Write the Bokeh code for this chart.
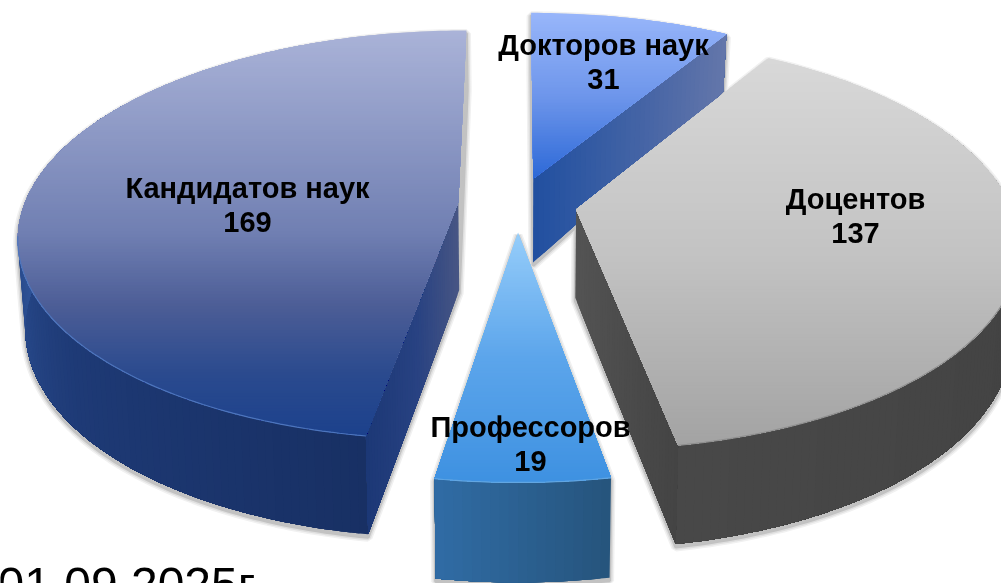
import math
from bokeh.plotting import figure
from bokeh.models import Range1d
from bokeh.core.properties import value
from bokeh.embed import file_html
from bokeh.resources import INLINE

# ---- data ----
categories = ["Докторов наук", "Доцентов", "Профессоров", "Кандидатов наук"]
values = [31, 137, 19, 169]
date_label = "01.09.2025г"

# ---- colour stops: (position, rgb) ----
top_stops = {
    "Докторов наук": [(0.0, (152, 182, 250)), (0.5, (110, 150, 235)), (1.0, (45, 105, 215))],
    "Доцентов": [(0.0, (216, 216, 216)), (0.5, (195, 195, 195)), (1.0, (163, 163, 163))],
    "Профессоров": [(0.0, (150, 205, 250)), (0.5, (92, 165, 235)), (1.0, (62, 145, 225))],
    "Кандидатов наук": [(0.0, (170, 179, 216)), (0.5, (112, 127, 178)), (0.68, (76, 93, 150)),
                        (0.85, (42, 74, 142)), (1.0, (28, 65, 140))],
}
rim_stops = {
    "Доцентов": [(0.0, (60, 60, 60)), (0.5, (66, 66, 66)), (1.0, (72, 72, 72))],
    "Профессоров": [(0.0, (38, 84, 124)), (1.0, (48, 108, 165))],
    "Кандидатов наук": [(0.0, (24, 48, 100)), (0.25, (30, 58, 118)), (0.47, (46, 82, 150)), (1.0, (46, 82, 150))],
}
# radial face, from the apex (0) to the rim (1)
radial_stops = {
    "Докторов наук": [(0.0, (33, 80, 160)), (1.0, (100, 118, 170))],
    "Доцентов": [(0.0, (84, 84, 84)), (1.0, (68, 68, 68))],
    "Кандидатов наук": [(0.0, (72, 86, 132)), (0.5, (40, 66, 130)), (1.0, (28, 56, 118))],
}
highlight = {"Кандидатов наук": "#4d75bd", "Профессоров": "#62a6e2", "Доцентов": "#8f8f8f"}
labels = {
    "Докторов наук": (603, 44),
    "Доцентов": (855, 198),
    "Профессоров": (530, 426),
    "Кандидатов наук": (247, 187),
}

# ---- projection ----
CX, CY, RX, RY, PERSP, EXPLODE, DEPTH, LEAN = 517, 204, 434, 200, 0.16, 0.137, 88, 0.985


def project(X, D, low=False):
    s = 1 / (1 - PERSP * D)
    px, py = CX + RX * X * s, CY + RY * D * s
    if low:
        py += DEPTH * (1 + 0.12 * D if D > 0 else 1 + 0.35 * D)
        px = CX + (px - CX) * LEAN
    return px, py


def mix(stops, f):
    f = max(0.0, min(1.0, f))
    for (a, ca), (b, cb) in zip(stops, stops[1:]):
        if f <= b:
            k = (f - a) / (b - a) if b > a else 0
            r = [round(x + (y - x) * k) for x, y in zip(ca, cb)]
            return "#%02x%02x%02x" % tuple(r)
    return "#%02x%02x%02x" % tuple(stops[-1][1])


def clip_below(poly, y0):
    out = []
    for i, q in enumerate(poly):
        r = poly[(i + 1) % len(poly)]
        if q[1] >= y0:
            out.append(q)
        if (q[1] >= y0) != (r[1] >= y0):
            k = (y0 - q[1]) / (r[1] - q[1])
            out.append((q[0] + (r[0] - q[0]) * k, y0))
    return out


def hull(pts):
    pts = sorted(set(pts))

    def build(seq):
        h = []
        for q in seq:
            while len(h) > 1 and (h[-1][0]-h[-2][0])*(q[1]-h[-2][1]) - (h[-1][1]-h[-2][1])*(q[0]-h[-2][0]) <= 0:
                h.pop()
            h.append(q)
        return h[:-1]
    return build(pts) + build(pts[::-1])


p = figure(width=1001, height=583, output_backend="svg", toolbar_location=None,
           x_range=Range1d(0, 1001), y_range=Range1d(583, 0),
           min_border=0, outline_line_color=None, background_fill_color="white")
p.axis.visible = False
p.grid.visible = False
p.styles = {"position": "fixed", "left": "0", "top": "0"}

total = sum(values)
wedges = []
start = 0.0
for name, val in zip(categories, values):
    span = 360.0 * val / total
    wedges.append((name, start, start + span))
    start += span


def geometry(a0, a1):
    mid = math.radians((a0 + a1) / 2)
    ox, od = EXPLODE * math.sin(mid), -EXPLODE * math.cos(mid)
    n = max(6, int(a1 - a0))
    arc = []
    for i in range(n + 1):
        t = math.radians(a0 + (a1 - a0) * i / n)
        arc.append((ox + math.sin(t), od - math.cos(t)))
    return (ox, od), arc


# soft drop shadows under every slice
for width, col in ((9, "#f1f1f1"), (6, "#dfdfdf"), (3, "#c2c2c2")):
    xs, ys = [], []
    for name, a0, a1 in wedges:
        apex, arc = geometry(a0, a1)
        pts = [project(*q) for q in [apex] + arc] + [project(*q, low=True) for q in [apex] + arc]
        h = hull(pts)
        xs.append([q[0] for q in h])
        ys.append([q[1] + 3 for q in h])
    p.patches(xs, ys, fill_color=col, line_color=col, line_width=width)

# slices, from the back to the front
order = ["Докторов наук", "Кандидатов наук", "Доцентов", "Профессоров"]
for name in order:
    a0, a1 = next((w[1], w[2]) for w in wedges if w[0] == name)
    apex, arc = geometry(a0, a1)
    xs, ys, cols = [], [], []

    # outer rim: every step paints from its angle to the end of the visible arc
    if name in rim_stops:
        n = len(arc) - 1
        idx = [i for i in range(n) if arc[i][1] > -0.55]
        if idx:
            last = idx[-1] + 1
            for i in idx:
                seg = arc[i:last + 1]
                pts = [project(*q) for q in seg] + [project(*q, low=True) for q in seg[::-1]]
                xs.append([q[0] for q in pts])
                ys.append([q[1] for q in pts])
                cols.append(mix(rim_stops[name], (i + 0.5) / n))
    # visible radial face, painted from the apex outwards
    if name in radial_stops:
        edge = arc[0] if name == "Кандидатов наук" else arc[-1]
        m = 40
        for i in range(m):
            f = i / m
            a = (apex[0] + (edge[0] - apex[0]) * f, apex[1] + (edge[1] - apex[1]) * f)
            pts = [project(*a), project(*edge), project(*edge, low=True), project(*a, low=True)]
            xs.append([q[0] for q in pts])
            ys.append([q[1] for q in pts])
            cols.append(mix(radial_stops[name], f + 0.5 / m))
    p.patches(xs, ys, fill_color=cols, line_color=None)

    # top surface, shaded in horizontal bands painted downwards
    poly = [project(*q) for q in [apex] + arc]
    ymin, ymax = min(q[1] for q in poly), max(q[1] for q in poly)
    step = 3.0
    xs, ys, cols = [], [], []
    y = ymin
    while y < ymax:
        band = clip_below(poly, y)
        if len(band) >= 3:
            xs.append([q[0] for q in band])
            ys.append([q[1] for q in band])
            cols.append(mix(top_stops[name], (y + step / 2 - ymin) / (ymax - ymin)))
        y += step
    p.patches(xs, ys, fill_color=cols, line_color=None)

    if name in highlight:
        rim = [project(*q) for q in arc if q[1] > 0.15]
        p.line([q[0] for q in rim], [q[1] for q in rim], line_color=highlight[name], line_width=1.2)

# labels
tx, ty, tt = [], [], []
for name, val in zip(categories, values):
    x, y = labels[name]
    tx += [x, x]
    ty += [y, y + 34]
    tt += [name, str(val)]
p.text(x=tx, y=ty, text=tt, text_font=value("Liberation Sans"), text_font_style="bold",
       text_font_size="29px", text_align="center", text_baseline="middle", text_color="black")
p.text(x=[-3], y=[584], text=[date_label], text_font=value("Liberation Sans"),
       text_font_size="48px", text_align="left", text_baseline="alphabetic", text_color="black")

open("out.html", "w").write(file_html(p, INLINE))
